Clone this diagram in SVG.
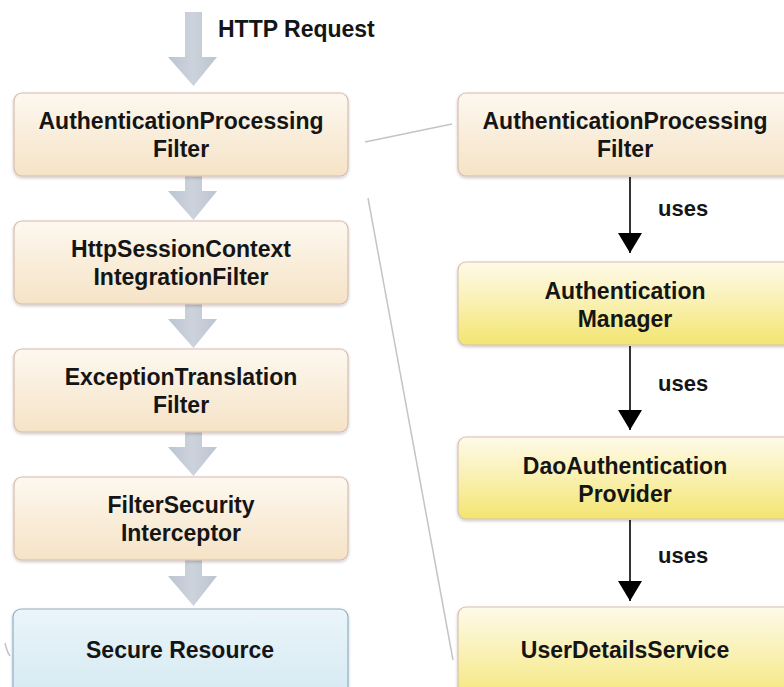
<svg xmlns="http://www.w3.org/2000/svg" width="784" height="687" viewBox="0 0 784 687">
<defs>
<linearGradient id="cream" x1="0" y1="0" x2="0" y2="1">
<stop offset="0" stop-color="#fdf8ef"/>
<stop offset="1" stop-color="#f5e3c6"/>
</linearGradient>
<linearGradient id="yellow" x1="0" y1="0" x2="0" y2="1">
<stop offset="0" stop-color="#fefae9"/>
<stop offset="0.5" stop-color="#f9f0b0"/>
<stop offset="1" stop-color="#f3e570"/>
</linearGradient>
<linearGradient id="blue" x1="0" y1="0" x2="0" y2="1">
<stop offset="0" stop-color="#eaf5fa"/>
<stop offset="1" stop-color="#d3e8f1"/>
</linearGradient>
<linearGradient id="grey" x1="0" y1="0" x2="1" y2="0">
<stop offset="0" stop-color="#bcc4d0"/>
<stop offset="0.5" stop-color="#cdd3dc"/>
<stop offset="1" stop-color="#bcc4d0"/>
</linearGradient>
<filter id="sh" x="-5%" y="-10%" width="110%" height="125%">
<feDropShadow dx="0" dy="1.5" stdDeviation="1.5" flood-color="#000" flood-opacity="0.22"/>
</filter>
<marker id="ah" viewBox="0 0 20 24" refX="20" refY="12" markerWidth="20" markerHeight="24" markerUnits="userSpaceOnUse" orient="auto">
<path d="M0,0 L20,12 L0,24 Z" fill="#000"/>
</marker>
<style>
.box{stroke-width:1.2;filter:url(#sh)}
.c{fill:url(#cream);stroke:#d8bcae}
.y{fill:url(#yellow);stroke:#d9beb0}
.b{fill:url(#blue);stroke:#8fb0c6}
.t{font-family:"Liberation Sans",Arial,sans-serif;font-weight:bold;font-size:23px;fill:#151515;text-anchor:middle}
.u{font-family:"Liberation Sans",Arial,sans-serif;font-weight:bold;font-size:22px;fill:#151515}
.h{font-family:"Liberation Sans",Arial,sans-serif;font-weight:bold;font-size:23px;fill:#151515}
.ga{fill:url(#grey)}
.thin{stroke:#c4c4c8;stroke-width:1.5;fill:none}
.dep{stroke:#000;stroke-width:1.6;fill:none;marker-end:url(#ah)}
</style>
</defs>
<rect width="784" height="687" fill="#fff"/>

<g id="connectors">
<polygon class="ga" points="185,12 202,12 202,57 217,57 193.5,86 168,57 185,57"/>
<polygon class="ga" points="185,175 202,175 202,191 217,191 193.5,220 168,191 185,191"/>
<polygon class="ga" points="185,303 202,303 202,319 217,319 193.5,348 168,319 185,319"/>
<polygon class="ga" points="185,431 202,431 202,447 217,447 193.5,476 168,447 185,447"/>
<polygon class="ga" points="185,559 202,559 202,576 217,576 193.5,606 168,576 185,576"/>
<line class="thin" x1="365" y1="142" x2="452" y2="124"/>
<line class="thin" x1="368" y1="198" x2="453" y2="660"/>
<path class="thin" d="M5,643 Q7,652 10,656" stroke-width="1"/>
<line class="dep" x1="630" y1="177" x2="630" y2="253"/>
<line class="dep" x1="630" y1="346" x2="630" y2="430"/>
<line class="dep" x1="630" y1="520" x2="630" y2="601"/>
<text class="u" x="658" y="216">uses</text>
<text class="u" x="658" y="391">uses</text>
<text class="u" x="658" y="563">uses</text>
<text class="h" x="218" y="37">HTTP Request</text>
</g>

<g id="n-apf-left">
<rect class="box c" x="14" y="93" width="334" height="83" rx="8"/>
<text class="t" x="181" y="129">AuthenticationProcessing</text>
<text class="t" x="181" y="157">Filter</text>
</g>
<g id="n-hscif">
<rect class="box c" x="14" y="221" width="334" height="83" rx="8"/>
<text class="t" x="181" y="257">HttpSessionContext</text>
<text class="t" x="181" y="285">IntegrationFilter</text>
</g>
<g id="n-etf">
<rect class="box c" x="14" y="349" width="334" height="83" rx="8"/>
<text class="t" x="181" y="385">ExceptionTranslation</text>
<text class="t" x="181" y="413">Filter</text>
</g>
<g id="n-fsi">
<rect class="box c" x="14" y="477" width="334" height="83" rx="8"/>
<text class="t" x="181" y="513">FilterSecurity</text>
<text class="t" x="181" y="541">Interceptor</text>
</g>
<g id="n-secure">
<rect class="box b" x="13" y="609" width="335" height="100" rx="8"/>
<text class="t" x="180" y="658">Secure Resource</text>
</g>

<g id="n-apf-right">
<rect class="box c" x="458" y="93" width="336" height="83" rx="8"/>
<text class="t" x="625" y="129">AuthenticationProcessing</text>
<text class="t" x="625" y="157">Filter</text>
</g>
<g id="n-am">
<rect class="box y" x="458" y="262" width="336" height="83" rx="8"/>
<text class="t" x="625" y="299">Authentication</text>
<text class="t" x="625" y="327">Manager</text>
</g>
<g id="n-dao">
<rect class="box y" x="458" y="437" width="336" height="82" rx="8"/>
<text class="t" x="625" y="474">DaoAuthentication</text>
<text class="t" x="625" y="502">Provider</text>
</g>
<g id="n-uds">
<rect class="box y" x="458" y="607" width="336" height="100" rx="8"/>
<text class="t" x="625" y="658">UserDetailsService</text>
</g>
</svg>
